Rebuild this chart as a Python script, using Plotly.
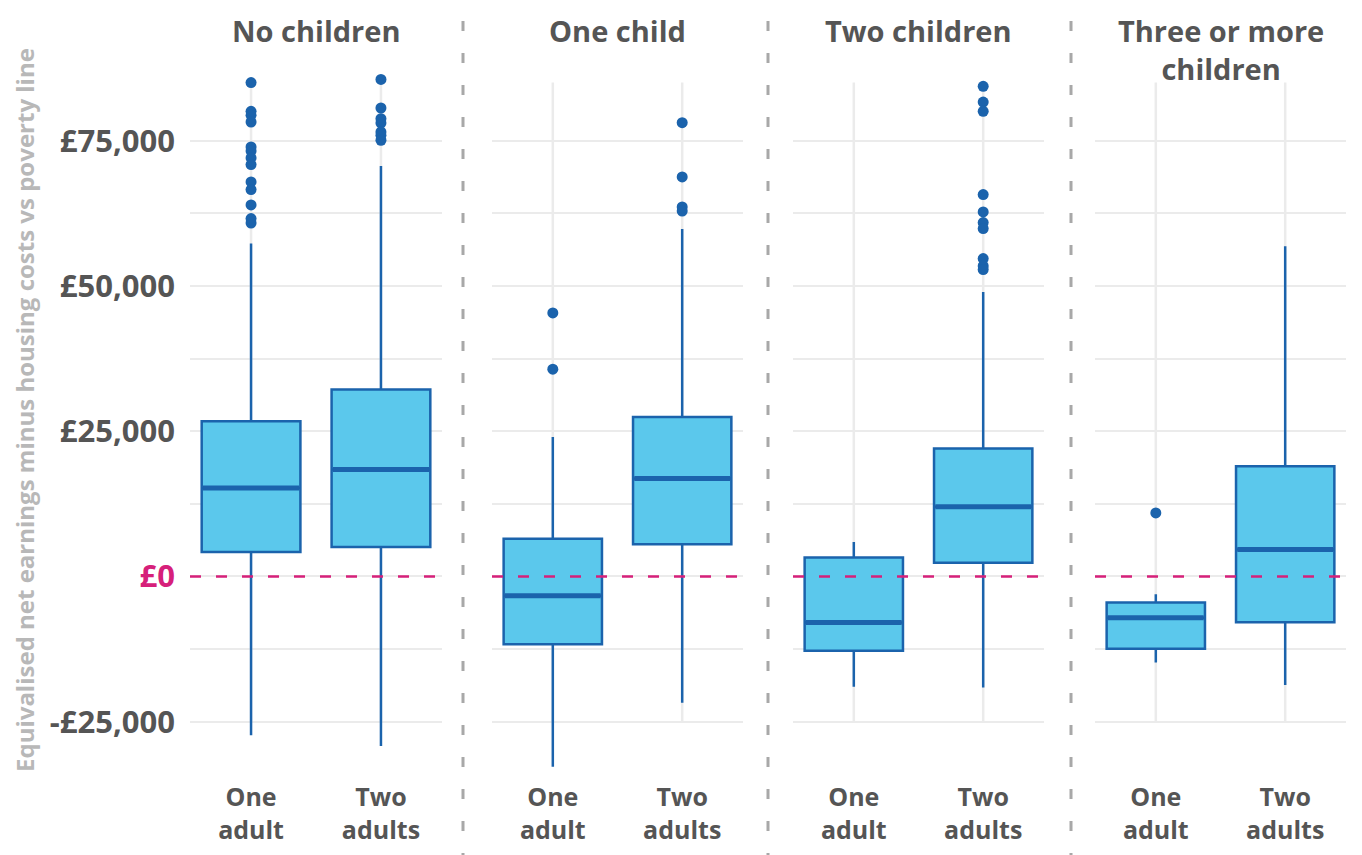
import plotly.graph_objects as go

# ---------------- data ----------------
groups = ["No children", "One child", "Two children", "Three or more<br>children"]
adult_labels = ["One<br>adult", "Two<br>adults"]

# One adult households
q1_one = [4230, -11650, -12800, -12460]
med_one = [15240, -3340, -7910, -7120]
q3_one = [26720, 6470, 3270, -4470]
lo_one = [-27310, -32760, -19000, -14800]
hi_one = [57300, 24020, 5950, -3050]
out_one = [
    [85000, 80060, 79370, 78220, 73920, 73230, 72030, 70890, 67900, 66590, 63950, 61600, 60840],
    [45350, 35670],
    [],
    [10940],
]

# Two adult households
q1_two = [5090, 5560, 2340, -7860]
med_two = [18410, 16860, 11980, 4650]
q3_two = [32180, 27460, 22020, 18980]
lo_two = [-29200, -21750, -19100, -18700]
hi_two = [70650, 59810, 48970, 56830]
out_two = [
    [85550, 80630, 78800, 78050, 76500, 75930, 75080],
    [78110, 68760, 63600, 62900],
    [84360, 81660, 80060, 65730, 62740, 60910, 59880, 54710, 53440, 52820],
    [],
]

y_tickvals = [-25000, 0, 25000, 50000, 75000]
y_ticktext = ["-£25,000", "£0", "£25,000", "£50,000", "£75,000"]
y_title = "Equivalised net earnings minus housing costs vs poverty line"

# ---------------- style ----------------
FILL = "#5BC8EC"
LINE = "#1B63AC"
PINK = "#D6207A"
GRID = "#EBEBEB"
TEXT = "#555555"
FONT = "Open Sans"
BOX_W = 0.76
OFF = 8  # page body offset
W, H = 1362, 855
ML, MT = 190 - OFF, 71 - OFF
PLOT_RIGHT, PLOT_BOTTOM = 1346 - OFF, 774 - OFF
MR, MB = W - PLOT_RIGHT, H - PLOT_BOTTOM
PW = W - ML - MR
PH = H - MT - MB
panels_px = [(190, 442), (492, 743), (793, 1044), (1095, 1346)]
domains = [((a - OFF - ML) / PW, (b - OFF - ML) / PW) for a, b in panels_px]
separators_px = [463, 768, 1071]
Y_RANGE = [-34000, 87000]
GRID_TOP, GRID_BOTTOM = 85000, -25000
TITLE_TOP = 2  # figure pixels

fig = go.Figure()

positions = [0, 1]
for i in range(4):
    ax = "" if i == 0 else str(i + 1)
    xref, yref = "x" + ax, "y"
    stats = [
        (q1_one[i], med_one[i], q3_one[i], lo_one[i], hi_one[i], out_one[i]),
        (q1_two[i], med_two[i], q3_two[i], lo_two[i], hi_two[i], out_two[i]),
    ]
    for pos, (q1, med, q3, lo, hi, outs) in zip(positions, stats):
        fig.add_trace(go.Box(
            x=[pos], q1=[q1], median=[med], q3=[q3], lowerfence=[lo], upperfence=[hi],
            boxpoints=False, width=BOX_W, whiskerwidth=0,
            fillcolor=FILL, line=dict(color=LINE, width=2.5),
            xaxis=xref, yaxis=yref, showlegend=False, hoverinfo="skip",
        ))
        fig.add_trace(go.Scatter(
            x=[pos - BOX_W / 2 + 0.01, pos + BOX_W / 2 - 0.01], y=[med, med], mode="lines",
            line=dict(color=LINE, width=5), xaxis=xref, yaxis=yref,
            showlegend=False, hoverinfo="skip",
        ))
        if outs:
            fig.add_trace(go.Scatter(
                x=[pos] * len(outs), y=outs, mode="markers",
                marker=dict(color=LINE, size=11), xaxis=xref, yaxis=yref,
                showlegend=False, hoverinfo="skip",
            ))
        # vertical category grid line
        fig.add_shape(type="line", xref=xref, yref=yref, x0=pos, x1=pos,
                      y0=GRID_BOTTOM, y1=GRID_TOP, line=dict(color=GRID, width=2.5),
                      layer="below")
    # poverty line
    fig.add_shape(type="line", xref=xref + " domain", yref=yref, x0=0, x1=1, y0=0, y1=0,
                  line=dict(color=PINK, width=2.5, dash="11px,15px"), layer="above")
    # panel title
    fig.add_annotation(text="<b>" + groups[i] + "</b>", xref=xref + " domain", yref="paper",
                       x=0.5, y=(PLOT_BOTTOM - TITLE_TOP) / PH, xanchor="center", yanchor="top",
                       borderpad=0, showarrow=False,
                       font=dict(family=FONT, size=29, color=TEXT))
    xa = dict(domain=list(domains[i]), range=[-0.47, 1.47], tickvals=positions,
              ticktext=["<b>" + t + "</b>" for t in adult_labels], showgrid=False,
              zeroline=False, showline=False, ticks="", ticklabelstandoff=6,
              tickfont=dict(family=FONT, size=25, color=TEXT), anchor="y")
    fig.update_layout(**{"xaxis" + ax: xa})

for sx in separators_px:
    xp = (sx - OFF - ML) / PW
    fig.add_shape(type="line", xref="paper", yref="paper", x0=xp, x1=xp,
                  y0=-MB / PH, y1=(H - MT + 20) / PH,
                  line=dict(color="#A8A8A8", width=3, dash="10px,22px"))

ticktext_fmt = []
for v, t in zip(y_tickvals, y_ticktext):
    if v == 0:
        ticktext_fmt.append("<b><span style='color:%s'>%s</span></b>" % (PINK, t))
    else:
        ticktext_fmt.append("<b>" + t + "</b>")

fig.update_layout(
    yaxis=dict(range=Y_RANGE, tickvals=y_tickvals, ticktext=ticktext_fmt,
               showgrid=True, gridcolor=GRID, gridwidth=2, zeroline=False, showline=False,
               ticks="", ticklabelstandoff=14,
               minor=dict(dtick=12500, tick0=0, showgrid=True, gridcolor=GRID, gridwidth=1.5),
               tickfont=dict(family=FONT, size=31, color=TEXT)),
    width=W, height=H,
    margin=dict(l=ML, r=MR, t=MT, b=MB),
    plot_bgcolor="white", paper_bgcolor="white",
    showlegend=False,
)

fig.add_annotation(text="<b>" + y_title + "</b>", xref="paper", yref="paper",
                   x=(25 - OFF - ML) / PW, y=(PLOT_BOTTOM - (410 - OFF)) / PH, textangle=-90,
                   xanchor="center", yanchor="middle", showarrow=False, borderpad=0,
                   font=dict(family=FONT, size=24, color="#B8B8B8"))

fig.write_html("out.html")
